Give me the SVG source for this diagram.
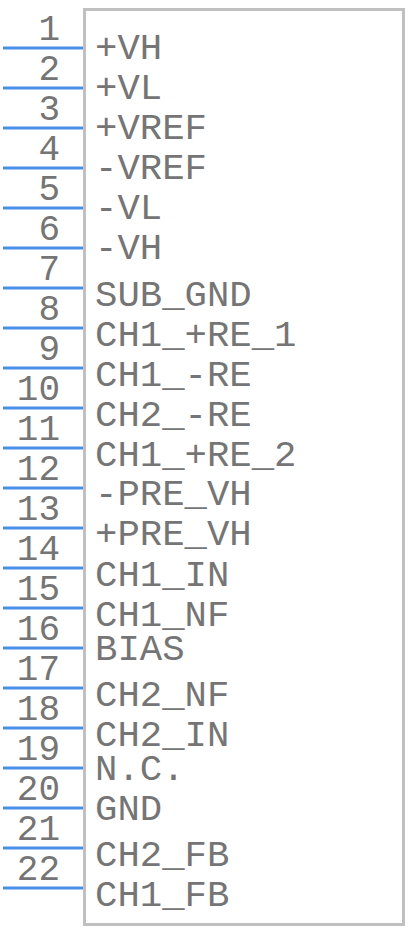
<svg xmlns="http://www.w3.org/2000/svg" width="408" height="932" viewBox="0 0 408 932">
<style>
.pin{stroke:#4a8fe7;stroke-width:3;fill:none}
.body{stroke:#c0c0c0;stroke-width:3;fill:#ffffff}
.num{font-family:"Liberation Mono","Courier New",monospace;font-size:36px;fill:#757575;text-anchor:end}
.lbl{font-family:"Liberation Mono","Courier New",monospace;font-size:37.3px;fill:#757575}
</style>
<rect width="408" height="932" fill="#ffffff"/>
<g id="body"><rect class="body" x="84.5" y="9.5" width="319" height="915"/></g>
<g id="pins">
<line class="pin" x1="3" y1="48" x2="83" y2="48"/>
<line class="pin" x1="3" y1="88" x2="83" y2="88"/>
<line class="pin" x1="3" y1="128" x2="83" y2="128"/>
<line class="pin" x1="3" y1="168" x2="83" y2="168"/>
<line class="pin" x1="3" y1="208" x2="83" y2="208"/>
<line class="pin" x1="3" y1="248" x2="83" y2="248"/>
<line class="pin" x1="3" y1="288" x2="83" y2="288"/>
<line class="pin" x1="3" y1="328" x2="83" y2="328"/>
<line class="pin" x1="3" y1="368" x2="83" y2="368"/>
<line class="pin" x1="3" y1="408" x2="83" y2="408"/>
<line class="pin" x1="3" y1="448" x2="83" y2="448"/>
<line class="pin" x1="3" y1="488" x2="83" y2="488"/>
<line class="pin" x1="3" y1="528" x2="83" y2="528"/>
<line class="pin" x1="3" y1="568" x2="83" y2="568"/>
<line class="pin" x1="3" y1="608" x2="83" y2="608"/>
<line class="pin" x1="3" y1="648" x2="83" y2="648"/>
<line class="pin" x1="3" y1="688" x2="83" y2="688"/>
<line class="pin" x1="3" y1="728" x2="83" y2="728"/>
<line class="pin" x1="3" y1="768" x2="83" y2="768"/>
<line class="pin" x1="3" y1="808" x2="83" y2="808"/>
<line class="pin" x1="3" y1="848" x2="83" y2="848"/>
<line class="pin" x1="3" y1="888" x2="83" y2="888"/>
</g>
<g id="numbers">
<text class="num" x="60" y="40">1</text>
<text class="num" x="60" y="80">2</text>
<text class="num" x="60" y="120">3</text>
<text class="num" x="60" y="160">4</text>
<text class="num" x="60" y="200">5</text>
<text class="num" x="60" y="240">6</text>
<text class="num" x="60" y="280">7</text>
<text class="num" x="60" y="320">8</text>
<text class="num" x="60" y="360">9</text>
<text class="num" x="60" y="400">10</text>
<text class="num" x="60" y="440">11</text>
<text class="num" x="60" y="480">12</text>
<text class="num" x="60" y="520">13</text>
<text class="num" x="60" y="560">14</text>
<text class="num" x="60" y="600">15</text>
<text class="num" x="60" y="640">16</text>
<text class="num" x="60" y="680">17</text>
<text class="num" x="60" y="720">18</text>
<text class="num" x="60" y="760">19</text>
<text class="num" x="60" y="800">20</text>
<text class="num" x="60" y="840">21</text>
<text class="num" x="60" y="880">22</text>
</g>
<g id="labels">
<text class="lbl" x="95" y="59">+VH</text>
<text class="lbl" x="95" y="99">+VL</text>
<text class="lbl" x="95" y="139">+VREF</text>
<text class="lbl" x="95" y="179">-VREF</text>
<text class="lbl" x="95" y="219">-VL</text>
<text class="lbl" x="95" y="259">-VH</text>
<text class="lbl" x="95" y="306">SUB_GND</text>
<text class="lbl" x="95" y="346">CH1_+RE_1</text>
<text class="lbl" x="95" y="386">CH1_-RE</text>
<text class="lbl" x="95" y="426">CH2_-RE</text>
<text class="lbl" x="95" y="466">CH1_+RE_2</text>
<text class="lbl" x="95" y="505">-PRE_VH</text>
<text class="lbl" x="95" y="545">+PRE_VH</text>
<text class="lbl" x="95" y="586">CH1_IN</text>
<text class="lbl" x="95" y="626">CH1_NF</text>
<text class="lbl" x="95" y="660">BIAS</text>
<text class="lbl" x="95" y="706">CH2_NF</text>
<text class="lbl" x="95" y="746">CH2_IN</text>
<text class="lbl" x="95" y="780">N.C.</text>
<text class="lbl" x="95" y="820">GND</text>
<text class="lbl" x="95" y="866">CH2_FB</text>
<text class="lbl" x="95" y="906">CH1_FB</text>
</g>
</svg>
